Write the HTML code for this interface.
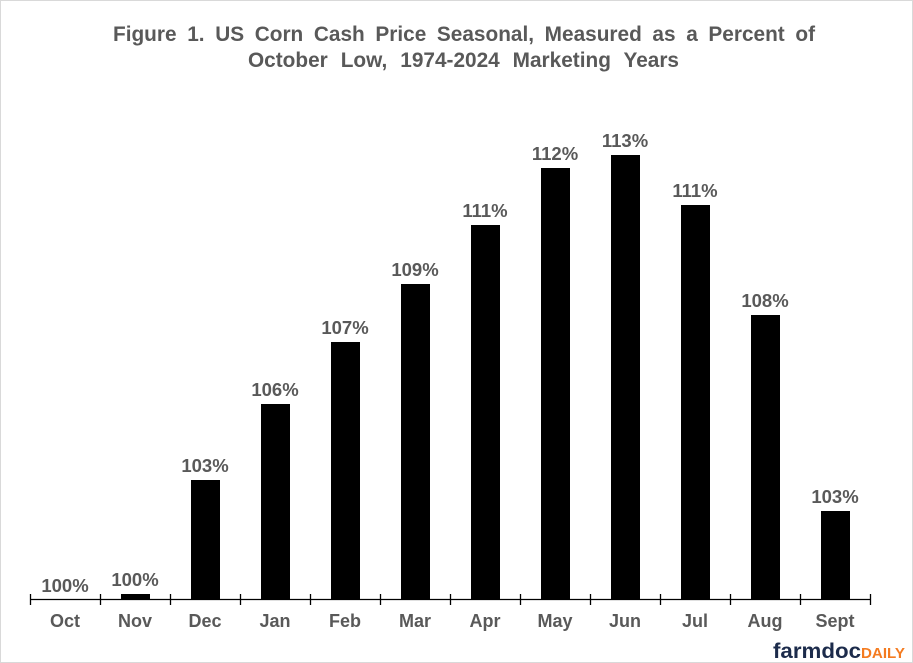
<!DOCTYPE html>
<html>
<head>
<meta charset="utf-8">
<style>
html,body{margin:0;padding:0;background:#fff;}
#wrap{position:relative;width:913px;height:663px;overflow:hidden;background:#fff;}
.t{position:absolute;font-family:"Liberation Sans",Arial,sans-serif;font-weight:bold;font-size:20.8px;line-height:21px;color:#595959;text-align:justify;text-align-last:justify;white-space:nowrap;}
svg{position:absolute;left:0;top:0;}
</style>
</head>
<body>
<div id="wrap">
<svg width="913" height="663" viewBox="0 0 913 663" xmlns="http://www.w3.org/2000/svg">
  <rect x="0.5" y="0.5" width="912" height="662" fill="#fff" stroke="#d9d9d9" stroke-width="1"/>
  <g fill="#000">
    <rect x="121" y="594" width="29" height="5.5"/>
    <rect x="191" y="480" width="29" height="119.5"/>
    <rect x="261" y="404" width="29" height="195.5"/>
    <rect x="331" y="342" width="29" height="257.5"/>
    <rect x="401" y="284" width="29" height="315.5"/>
    <rect x="471" y="225" width="29" height="374.5"/>
    <rect x="541" y="168" width="29" height="431.5"/>
    <rect x="611" y="155" width="29" height="444.5"/>
    <rect x="681" y="205" width="29" height="394.5"/>
    <rect x="751" y="315" width="29" height="284.5"/>
    <rect x="821" y="511" width="29" height="88.5"/>
  </g>
  <g stroke="#000" stroke-width="1.3">
    <line x1="30" y1="599.5" x2="870.5" y2="599.5"/>
    <line x1="30.5" y1="594" x2="30.5" y2="605"/>
    <line x1="100.5" y1="594" x2="100.5" y2="605"/>
    <line x1="170.5" y1="594" x2="170.5" y2="605"/>
    <line x1="240.5" y1="594" x2="240.5" y2="605"/>
    <line x1="310.5" y1="594" x2="310.5" y2="605"/>
    <line x1="380.5" y1="594" x2="380.5" y2="605"/>
    <line x1="450.5" y1="594" x2="450.5" y2="605"/>
    <line x1="520.5" y1="594" x2="520.5" y2="605"/>
    <line x1="590.5" y1="594" x2="590.5" y2="605"/>
    <line x1="660.5" y1="594" x2="660.5" y2="605"/>
    <line x1="730.5" y1="594" x2="730.5" y2="605"/>
    <line x1="800.5" y1="594" x2="800.5" y2="605"/>
    <line x1="870.5" y1="594" x2="870.5" y2="605"/>
  </g>
  <g font-family="Liberation Sans, Arial, sans-serif" font-weight="bold" font-size="18.5" fill="#595959" text-anchor="middle">
    <text x="65" y="592">100%</text>
    <text x="135" y="586">100%</text>
    <text x="205" y="472">103%</text>
    <text x="275" y="396">106%</text>
    <text x="345" y="334">107%</text>
    <text x="415" y="276">109%</text>
    <text x="485" y="217">111%</text>
    <text x="555" y="160">112%</text>
    <text x="625" y="147">113%</text>
    <text x="695" y="197">111%</text>
    <text x="765" y="307">108%</text>
    <text x="835" y="503">103%</text>
  </g>
  <g font-family="Liberation Sans, Arial, sans-serif" font-weight="bold" font-size="18" fill="#595959" text-anchor="middle">
    <text x="65" y="627">Oct</text>
    <text x="135" y="627">Nov</text>
    <text x="205" y="627">Dec</text>
    <text x="275" y="627">Jan</text>
    <text x="345" y="627">Feb</text>
    <text x="415" y="627">Mar</text>
    <text x="485" y="627">Apr</text>
    <text x="555" y="627">May</text>
    <text x="625" y="627">Jun</text>
    <text x="695" y="627">Jul</text>
    <text x="765" y="627">Aug</text>
    <text x="835" y="627">Sept</text>
  </g>
  <text x="773" y="658" font-family="Liberation Sans, Arial, sans-serif" font-weight="bold" font-size="21" fill="#1c2b4b" textLength="88" lengthAdjust="spacingAndGlyphs">farmdoc</text>
  <text x="861" y="658" font-family="Liberation Sans, Arial, sans-serif" font-weight="bold" font-size="15" fill="#f47b20" textLength="44" lengthAdjust="spacingAndGlyphs">DAILY</text>
</svg>
<div class="t" style="left:113px;top:24px;width:702px;">Figure 1. US Corn Cash Price Seasonal, Measured as a Percent of</div>
<div class="t" style="left:248px;top:50px;width:431px;">October Low, 1974-2024 Marketing Years</div>
</div>
</body>
</html>
